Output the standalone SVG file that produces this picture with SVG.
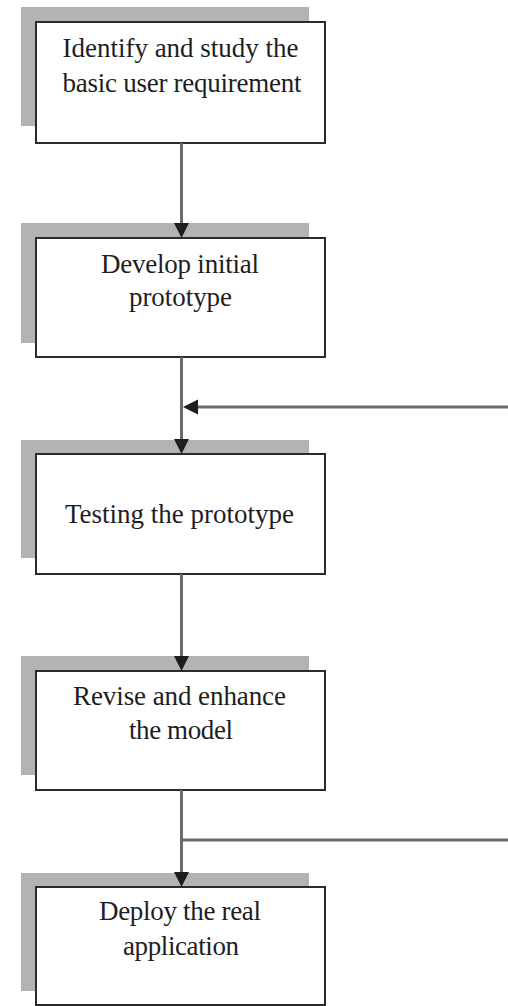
<svg xmlns="http://www.w3.org/2000/svg" width="508" height="1006" viewBox="0 0 508 1006">
  <defs>
    <style>
      .shadow { fill: #b3b3b3; }
      .box { fill: #ffffff; stroke: #2b2b2b; stroke-width: 2; }
      .label { font-family: "Liberation Serif", "Times New Roman", serif; font-size: 27px; fill: #1e1e1e; text-anchor: middle; }
      .conn { fill: none; stroke: #6b6b6b; stroke-width: 3; }
    </style>
    <marker id="arrow" markerUnits="userSpaceOnUse" markerWidth="16" markerHeight="16" refX="4" refY="7.5" orient="auto" overflow="visible">
      <path d="M0,0 L15,7.5 L0,15 z" fill="#1e1e1e"/>
    </marker>
  </defs>
  <rect width="508" height="1006" fill="#ffffff"/>

  <g id="node-identify">
    <rect class="shadow" x="21" y="7" width="288" height="119"/>
    <rect class="box" x="36" y="22" width="289" height="121"/>
    <text class="label" x="180.5" y="57" textLength="236" lengthAdjust="spacing">Identify and study the</text>
    <text class="label" x="182" y="92" textLength="239" lengthAdjust="spacing">basic user requirement</text>
  </g>

  <g id="node-develop">
    <rect class="shadow" x="21" y="223" width="288" height="120"/>
    <rect class="box" x="36" y="238" width="289" height="119"/>
    <text class="label" x="180" y="273" textLength="158" lengthAdjust="spacing">Develop initial</text>
    <text class="label" x="180.5" y="306" textLength="103" lengthAdjust="spacing">prototype</text>
  </g>

  <g id="node-testing">
    <rect class="shadow" x="21" y="440" width="288" height="118"/>
    <rect class="box" x="36" y="454" width="289" height="120"/>
    <text class="label" x="179.5" y="523" textLength="229" lengthAdjust="spacing">Testing the prototype</text>
  </g>

  <g id="node-revise">
    <rect class="shadow" x="21" y="656" width="288" height="119"/>
    <rect class="box" x="36" y="671" width="289" height="119"/>
    <text class="label" x="179.5" y="705" textLength="213" lengthAdjust="spacing">Revise and enhance</text>
    <text class="label" x="181" y="739" textLength="104" lengthAdjust="spacing">the model</text>
  </g>

  <g id="node-deploy">
    <rect class="shadow" x="21" y="873" width="288" height="118"/>
    <rect class="box" x="36" y="887" width="289" height="118"/>
    <text class="label" x="180" y="920" textLength="162" lengthAdjust="spacing">Deploy the real</text>
    <text class="label" x="181" y="955" textLength="116" lengthAdjust="spacing">application</text>
  </g>

  <g id="connectors">
    <path class="conn" d="M181.5,143 V227" marker-end="url(#arrow)"/>
    <path class="conn" d="M181.5,357 V443" marker-end="url(#arrow)"/>
    <path class="conn" d="M508,407 H194" marker-end="url(#arrow)"/>
    <path class="conn" d="M181.5,574 V660" marker-end="url(#arrow)"/>
    <path class="conn" d="M181.5,790 V876" marker-end="url(#arrow)"/>
    <path class="conn" d="M181.5,840 H508"/>
  </g>
</svg>
